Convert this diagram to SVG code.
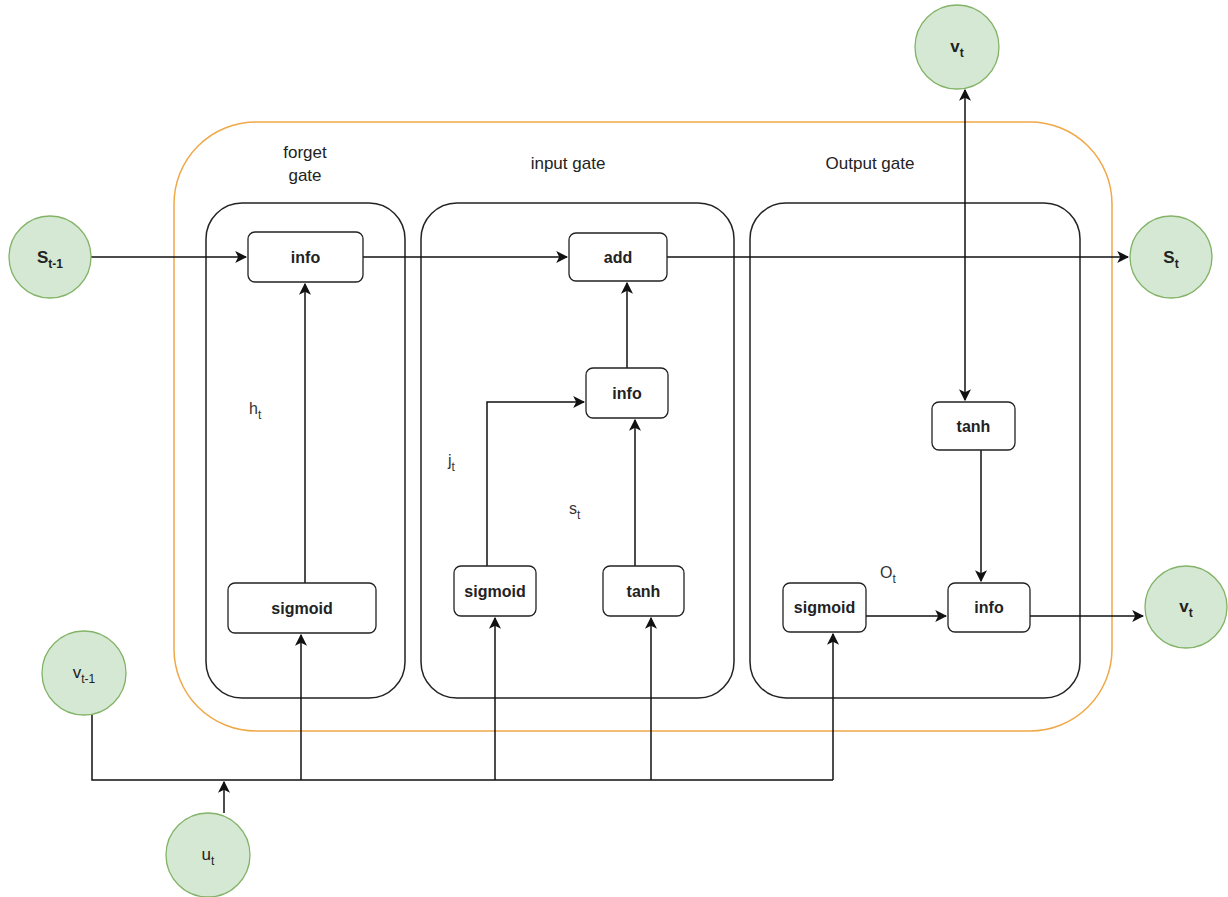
<svg xmlns="http://www.w3.org/2000/svg" width="1228" height="897" viewBox="0 0 1228 897">
<style>
.bg{fill:#ffffff}
.outer{fill:none;stroke:#f0a848;stroke-width:1.5}
.gate{fill:none;stroke:#222;stroke-width:1.5}
.box{fill:#fff;stroke:#222;stroke-width:1.3}
.circ{fill:#d5e8d4;stroke:#82b366;stroke-width:1.3}
.lbl{font-family:"Liberation Sans",Arial,sans-serif;font-size:16px;font-weight:bold;fill:#222;text-anchor:middle}
.cl{font-family:"Liberation Sans",Arial,sans-serif;font-size:17px;font-weight:bold;fill:#222;text-anchor:middle}
.t{font-family:"Liberation Sans",Arial,sans-serif;font-size:17px;fill:#222;text-anchor:middle}
.e{font-family:"Liberation Sans",Arial,sans-serif;font-size:16px;fill:#333}
.sub{font-size:12px}
.c{fill:none;stroke:#111;stroke-width:1.5}
</style>
<defs>
<marker id="ah" viewBox="0 0 10 10" refX="9" refY="5" markerWidth="12" markerHeight="12" markerUnits="userSpaceOnUse" orient="auto-start-reverse">
<path d="M0,0 L10,5 L0,10 L2.5,5 Z" fill="#111"/>
</marker>
</defs>
<rect class="bg" x="0" y="0" width="1228" height="897"/>

<g id="outer"><rect class="outer" x="174" y="122" width="938" height="609" rx="82" ry="82"/></g>

<g id="forget-gate">
<rect class="gate" x="206" y="203" width="199" height="495" rx="36" ry="36"/>
<text class="t" x="305" y="158">forget</text>
<text class="t" x="305" y="181">gate</text>
</g>
<g id="input-gate">
<rect class="gate" x="421" y="203" width="313" height="495" rx="36" ry="36"/>
<text class="t" x="568" y="169">input gate</text>
</g>
<g id="output-gate">
<rect class="gate" x="750" y="203" width="330" height="495" rx="36" ry="36"/>
<text class="t" x="870" y="169">Output gate</text>
</g>

<g id="connectors">
<line class="c" x1="91" y1="257" x2="246" y2="257" marker-end="url(#ah)"/>
<line class="c" x1="305" y1="583" x2="305" y2="284" marker-end="url(#ah)"/>
<line class="c" x1="363" y1="257" x2="567" y2="257" marker-end="url(#ah)"/>
<line class="c" x1="667" y1="257" x2="1128" y2="257" marker-end="url(#ah)"/>
<line class="c" x1="627" y1="368" x2="627" y2="283" marker-end="url(#ah)"/>
<polyline class="c" points="487,566 487,402 584,402" marker-end="url(#ah)"/>
<line class="c" x1="635" y1="566" x2="635" y2="420" marker-end="url(#ah)"/>
<line class="c" x1="965" y1="400" x2="965" y2="90" marker-start="url(#ah)" marker-end="url(#ah)"/>
<line class="c" x1="981" y1="450" x2="981" y2="581" marker-end="url(#ah)"/>
<line class="c" x1="866" y1="616" x2="946" y2="616" marker-end="url(#ah)"/>
<line class="c" x1="1030" y1="616" x2="1143" y2="616" marker-end="url(#ah)"/>
<polyline class="c" points="92,713 92,780 833,780"/>
<line class="c" x1="224" y1="813" x2="224" y2="782" marker-end="url(#ah)"/>
<line class="c" x1="301" y1="780" x2="301" y2="635" marker-end="url(#ah)"/>
<line class="c" x1="495" y1="780" x2="495" y2="618" marker-end="url(#ah)"/>
<line class="c" x1="651" y1="780" x2="651" y2="618" marker-end="url(#ah)"/>
<line class="c" x1="833" y1="780" x2="833" y2="634" marker-end="url(#ah)"/>
</g>

<g id="edge-labels">
<text class="e" x="249" y="414">h<tspan class="sub" dy="5">t</tspan></text>
<text class="e" x="448" y="466">j<tspan class="sub" dy="5">t</tspan></text>
<text class="e" x="569" y="514">s<tspan class="sub" dy="5">t</tspan></text>
<text class="e" x="880" y="578">O<tspan class="sub" dy="5">t</tspan></text>
</g>

<g id="forget-info"><rect class="box" x="248" y="232" width="115" height="50" rx="7"/><text class="lbl" x="305.5" y="263">info</text></g>
<g id="forget-sigmoid"><rect class="box" x="228" y="583" width="148" height="50" rx="7"/><text class="lbl" x="302" y="614">sigmoid</text></g>
<g id="add"><rect class="box" x="569" y="233" width="98" height="48" rx="7"/><text class="lbl" x="618" y="263">add</text></g>
<g id="input-info"><rect class="box" x="586" y="368" width="82" height="50" rx="7"/><text class="lbl" x="627" y="399">info</text></g>
<g id="input-sigmoid"><rect class="box" x="454" y="566" width="82" height="50" rx="7"/><text class="lbl" x="495" y="597">sigmoid</text></g>
<g id="input-tanh"><rect class="box" x="603" y="566" width="81" height="50" rx="7"/><text class="lbl" x="643.5" y="597">tanh</text></g>
<g id="output-tanh"><rect class="box" x="932" y="402" width="83" height="48" rx="7"/><text class="lbl" x="973.5" y="432">tanh</text></g>
<g id="output-sigmoid"><rect class="box" x="783" y="583" width="83" height="49" rx="7"/><text class="lbl" x="824.5" y="613">sigmoid</text></g>
<g id="output-info"><rect class="box" x="948" y="583" width="82" height="49" rx="7"/><text class="lbl" x="989" y="613">info</text></g>

<g id="s-prev"><circle class="circ" cx="50" cy="257" r="41"/><text class="cl" x="50" y="263">S<tspan class="sub" dy="5">t-1</tspan></text></g>
<g id="s-t"><circle class="circ" cx="1171" cy="257" r="41"/><text class="cl" x="1171" y="263">S<tspan class="sub" dy="5">t</tspan></text></g>
<g id="v-top"><circle class="circ" cx="957" cy="47" r="42"/><text class="cl" x="957" y="52">v<tspan class="sub" dy="5">t</tspan></text></g>
<g id="v-right"><circle class="circ" cx="1186" cy="607" r="41"/><text class="cl" x="1186" y="612">v<tspan class="sub" dy="5">t</tspan></text></g>
<g id="v-prev"><circle class="circ" cx="84" cy="673" r="42"/><text class="t" x="84" y="678">v<tspan class="sub" dy="5">t-1</tspan></text></g>
<g id="u-t"><circle class="circ" cx="208" cy="855" r="42"/><text class="t" x="208" y="860">u<tspan class="sub" dy="5">t</tspan></text></g>
</svg>
